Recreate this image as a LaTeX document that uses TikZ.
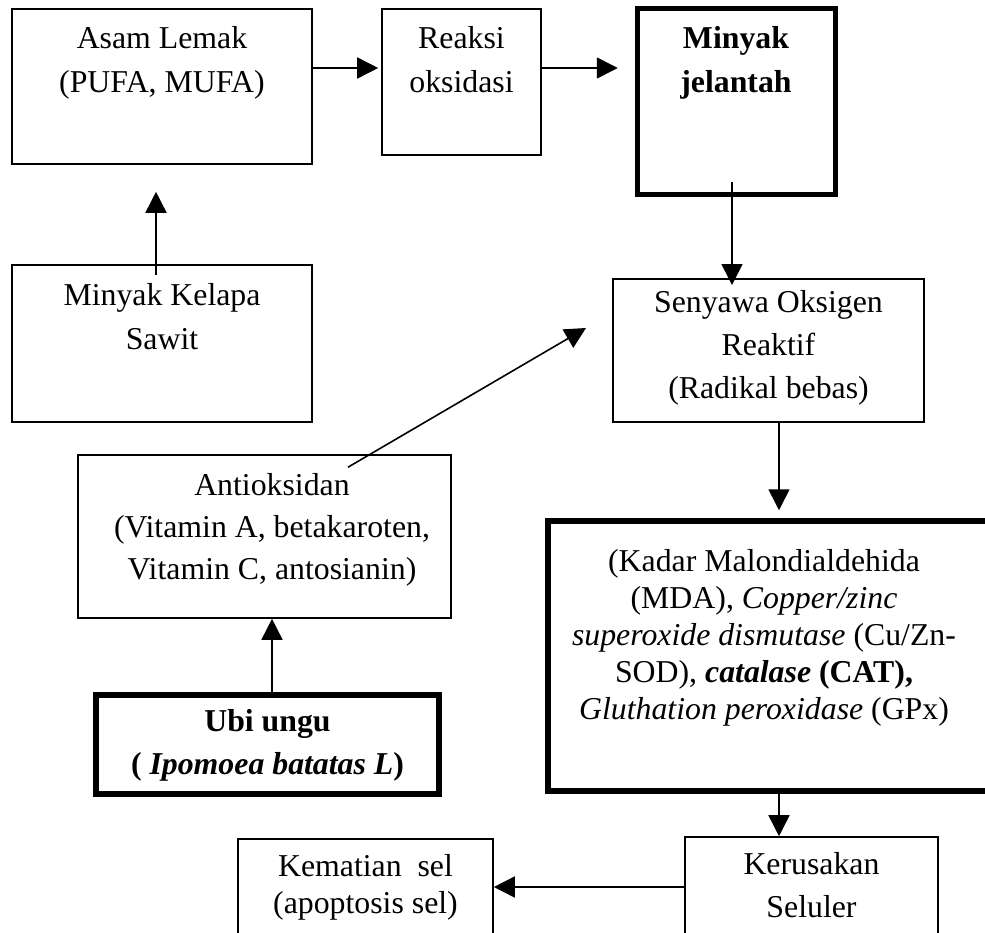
\documentclass[tikz,border=0pt]{standalone}
\usepackage{fontspec}
\setmainfont{Liberation Serif}
\usetikzlibrary{arrows.meta,calc}
\begin{document}
\begin{tikzpicture}[x=1pt,y=-1pt,
  box/.style={draw, line width=1.6pt, inner sep=0pt},
  thickbox/.style={draw, line width=5.5pt, inner sep=0pt},
  txt/.style={anchor=base, inner sep=0pt, font=\fontsize{31.8}{38}\selectfont},
  arr/.style={line width=1.6pt, -{Triangle[length=21pt,width=21pt]}}]
\clip (0,0) rectangle (985,932);
\useasboundingbox (0,0) rectangle (985,932);
\fill[white] (0,0) rectangle (985,932);
% boxes
\node[box, minimum width=300pt, minimum height=155pt] (asam) at (162,86.5) {};
\node[box, minimum width=159pt, minimum height=146pt] (reaksi) at (461.5,82) {};
\node[thickbox, minimum width=198pt, minimum height=186pt] (minyakj) at (736.5,101.5) {};
\node[box, minimum width=300pt, minimum height=157pt] (kelapa) at (162,343.5) {};
\node[box, minimum width=311pt, minimum height=143pt] (senyawa) at (768.5,350.5) {};
\node[box, minimum width=373pt, minimum height=163pt] (antiok) at (264.5,536.5) {};
\node[thickbox, minimum width=452pt, minimum height=270pt] (mda) at (774,656) {};
\node[thickbox, minimum width=343pt, minimum height=99pt] (ubi) at (267.5,744.5) {};
\node[box, minimum width=253pt, minimum height=143pt] (kerusakan) at (811.5,908.5) {};
\node[box, minimum width=255pt, minimum height=141pt] (kematian) at (365.5,909.5) {};
% texts
\node[txt] (asam1) at (162,48) {Asam Lemak};
\node[txt] (asam2) at (162,92) {(PUFA, MUFA)};
\node[txt] (reaksi1) at (461.5,48) {Reaksi};
\node[txt] (reaksi2) at (461.5,92) {oksidasi};
\node[txt, font=\fontsize{31.8}{38}\selectfont\bfseries] (mj1) at (736,48) {Minyak};
\node[txt, font=\fontsize{31.8}{38}\selectfont\bfseries] (mj2) at (736,92) {jelantah};
\node[txt] (kel1) at (162,305) {Minyak Kelapa};
\node[txt] (kel2) at (162,349) {Sawit};
\node[txt] (sen1) at (768.5,312) {Senyawa Oksigen};
\node[txt] (sen2) at (768.5,355) {Reaktif};
\node[txt] (sen3) at (768.5,398) {(Radikal bebas)};
\node[txt] (ant1) at (272,495) {Antioksidan};
\node[txt] (ant2) at (272,537) {(Vitamin A, betakaroten,};
\node[txt] (ant3) at (272,579) {Vitamin C, antosianin)};
\node[txt] (mda1) at (764,571) {(Kadar Malondialdehida};
\node[txt] (mda2) at (764,608) {(MDA), \textit{Copper/zinc}};
\node[txt] (mda3) at (764,645) {\textit{superoxide dismutase} (Cu/Zn-};
\node[txt] (mda4) at (764,682) {SOD), \textbf{\textit{catalase}} \textbf{(CAT),}};
\node[txt] (mda5) at (764,719) {\textit{Gluthation peroxidase} (GPx)};
\node[txt, font=\fontsize{31.8}{38}\selectfont\bfseries] (ubi1) at (267.5,731) {Ubi ungu};
\node[txt, font=\fontsize{31.8}{38}\selectfont\bfseries] (ubi2) at (267.5,774) {( \textit{Ipomoea batatas L})};
\node[txt] (ker1) at (811.5,874) {Kerusakan};
\node[txt] (ker2) at (811.5,917) {Seluler};
\node[txt] (kem1) at (365.5,876) {Kematian\ \ sel};
\node[txt] (kem2) at (365.5,913) {(apoptosis sel)};
% connectors
\draw[arr] ($(asam.east)+(0,-18.5)$) -- ($(reaksi.west)+(-3,-14)$);
\draw[arr] ($(reaksi.east)+(0,-14)$) -- ($(minyakj.west)+(-17,-33.5)$);
\draw[arr] ($(minyakj.south)+(-4.5,-15)$) -- ($(senyawa.north)+(-36.5,6.8)$);
\draw[arr] ($(senyawa.south)+(10.5,0)$) -- ($(mda.north)+(5,-8)$);
\draw[arr] ($(kelapa.north)+(-6,11)$) -- ($(asam.south)+(-6,27)$);
\draw[arr] ($(antiok.north)+(83.5,13)$) -- ($(senyawa.west)+(-26.2,-22.5)$);
\draw[arr] ($(ubi.north)+(4.5,0)$) -- ($(antiok.south)+(7.5,0)$);
\draw[arr] ($(mda.south)+(5,0)$) -- ($(kerusakan.north)+(-32.5,0)$);
\draw[arr] ($(kerusakan.west)+(0,-21.5)$) -- ($(kematian.east)+(0,-22.5)$);
\end{tikzpicture}
\end{document}
